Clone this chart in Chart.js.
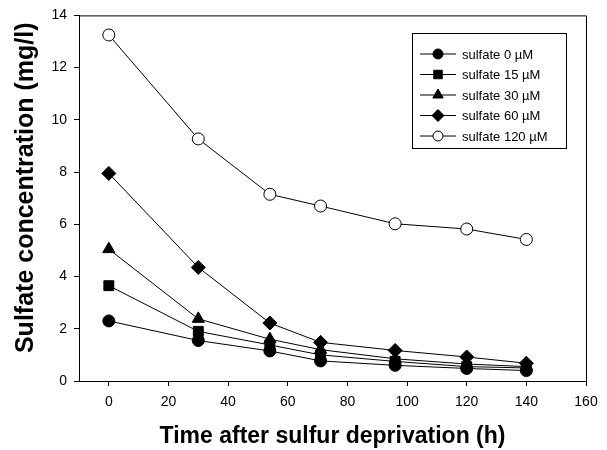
<!DOCTYPE html>
<html>
<head>
<meta charset="utf-8">
<script src="https://cdn.jsdelivr.net/npm/chart.js@4/dist/chart.umd.min.js"></script>
<style>
  html, body { margin: 0; padding: 0; background: #fff; }
  #wrap { width: 607px; height: 450px; }
</style>
</head>
<body>
<div id="wrap"><canvas id="c" width="607" height="450"></canvas></div>
<script>
// time points (h) and sulfate concentration (mg/l) per treatment
const hours = [0, 30, 54, 71, 96, 120, 140];
const sulfate0 = [2.3, 1.55, 1.15, 0.77, 0.6, 0.48, 0.4];
const sulfate15 = [3.65, 1.9, 1.38, 1.0, 0.75, 0.55, 0.5];
const sulfate30 = [5.05, 2.38, 1.6, 1.2, 0.85, 0.65, 0.55];
const sulfate60 = [7.95, 4.35, 2.22, 1.48, 1.17, 0.92, 0.68];
const sulfate120 = [13.25, 9.27, 7.15, 6.7, 6.02, 5.82, 5.42];
const seriesLabels = ['sulfate 0 \u00b5M', 'sulfate 15 \u00b5M', 'sulfate 30 \u00b5M', 'sulfate 60 \u00b5M', 'sulfate 120 \u00b5M'];
const xTicks = [0, 20, 40, 60, 80, 100, 120, 140, 160];
const yTicks = [0, 2, 4, 6, 8, 10, 12, 14];

const FONT = "'Liberation Sans', Arial, sans-serif";

function mkSet(label, vals, style, radius, fill) {
    return {
        label: label,
        data: hours.map((h, i) => ({ x: h, y: vals[i] })),
        borderColor: '#000',
        borderWidth: 1,
        pointStyle: style,
        pointRadius: radius,
        pointHoverRadius: radius,
        pointBackgroundColor: fill,
        pointBorderColor: '#000',
        pointBorderWidth: 1,
        tension: 0
    };
}

const datasets = [
    mkSet(seriesLabels[0], sulfate0, 'circle', 6, '#000'),
    mkSet(seriesLabels[1], sulfate15, 'rect', 7, '#000'),
    mkSet(seriesLabels[2], sulfate30, 'triangle', 7, '#000'),
    mkSet(seriesLabels[3], sulfate60, 'rectRot', 7, '#000'),
    mkSet(seriesLabels[4], sulfate120, 'circle', 6, '#fff')
];

// box round the plot + legend with line and marker
const boxAndLegend = {
    id: 'boxAndLegend',
    afterDatasetsDraw(chart) {
        const ctx = chart.ctx;
        const a = chart.chartArea;
        ctx.save();
        ctx.strokeStyle = '#000';
        ctx.lineWidth = 1;
        ctx.beginPath();
        ctx.moveTo(a.left, a.top + 0.5);
        ctx.lineTo(a.right + 0.5, a.top + 0.5);
        ctx.lineTo(a.right + 0.5, a.bottom);
        ctx.stroke();

        // legend
        const lx = 412, ly = 33, lw = 154, lh = 115;
        ctx.fillStyle = '#fff';
        ctx.fillRect(lx, ly, lw, lh);
        ctx.strokeRect(lx + 0.5, ly + 0.5, lw, lh);
        ctx.font = '13px ' + FONT;
        ctx.textBaseline = 'middle';
        chart.data.datasets.forEach((ds, i) => {
            const y = 54 + i * 20.5;
            ctx.strokeStyle = '#000';
            ctx.lineWidth = 1;
            ctx.beginPath();
            ctx.moveTo(420, y);
            ctx.lineTo(456, y);
            ctx.stroke();
            ctx.fillStyle = ds.pointBackgroundColor;
            ctx.strokeStyle = '#000';
            Chart.helpers.drawPoint(ctx, {
                pointStyle: ds.pointStyle,
                radius: ds.pointRadius - 1,
                borderWidth: 1,
                rotation: 0
            }, 438, y);
            ctx.fillStyle = '#000';
            ctx.fillText(ds.label, 462, y + 1);
        });
        ctx.restore();
    }
};

new Chart(document.getElementById('c'), {
    type: 'line',
    data: { datasets: datasets },
    options: {
        responsive: false,
        animation: false,
        layout: { padding: { left: 0, right: 21, top: 15, bottom: 0 } },
        plugins: { legend: { display: false }, tooltip: { enabled: false } },
        scales: {
            x: {
                type: 'linear',
                min: -10,
                max: 160,
                afterBuildTicks: s => { s.ticks = xTicks.map(v => ({ value: v })); },
                afterFit: s => { s.height = 69; },
                grid: { drawOnChartArea: false, tickLength: 5, color: '#000' },
                border: { color: '#000', width: 1 },
                ticks: { color: '#000', font: { family: FONT, size: 14 }, padding: 8, maxRotation: 0 },
                title: {
                    display: true,
                    text: 'Time after sulfur deprivation (h)',
                    color: '#000',
                    font: { family: FONT, size: 23, weight: 'bold' },
                    padding: { top: 0, bottom: 0 }
                }
            },
            y: {
                min: 0,
                max: 14,
                afterBuildTicks: s => { s.ticks = yTicks.map(v => ({ value: v })); },
                afterFit: s => { s.width = 79; },
                grid: { drawOnChartArea: false, tickLength: 5, color: '#000' },
                border: { color: '#000', width: 1 },
                ticks: { color: '#000', font: { family: FONT, size: 14 }, padding: 7 },
                title: {
                    display: true,
                    text: '   Sulfate concentration (mg/l)',
                    color: '#000',
                    font: { family: FONT, size: 25, weight: 'bold' },
                    padding: { top: 11, bottom: 0 }
                }
            }
        }
    },
    plugins: [boxAndLegend]
});
</script>
</body>
</html>
